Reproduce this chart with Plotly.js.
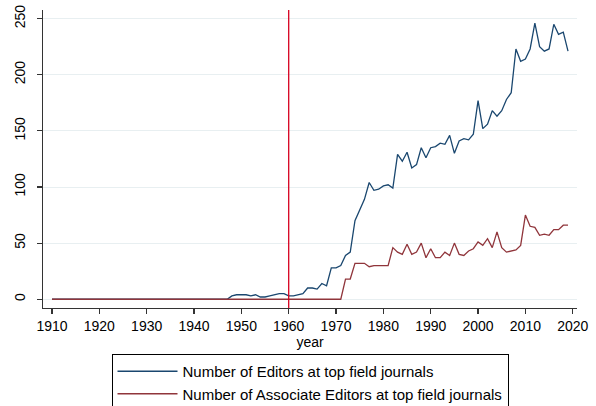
<!DOCTYPE html>
<html>
<head>
<meta charset="utf-8">
<script src="https://cdn.plot.ly/plotly-3.0.1.min.js"></script>
<style>
  html, body { margin: 0; padding: 0; background: #ffffff; }
  #chart { width: 596px; height: 406px; }
</style>
</head>
<body>
<div id="chart"></div>
<script>
var years = [
  1910, 1911, 1912, 1913, 1914, 1915, 1916, 1917, 1918, 1919,
  1920, 1921, 1922, 1923, 1924, 1925, 1926, 1927, 1928, 1929,
  1930, 1931, 1932, 1933, 1934, 1935, 1936, 1937, 1938, 1939,
  1940, 1941, 1942, 1943, 1944, 1945, 1946, 1947, 1948, 1949,
  1950, 1951, 1952, 1953, 1954, 1955, 1956, 1957, 1958, 1959,
  1960, 1961, 1962, 1963, 1964, 1965, 1966, 1967, 1968, 1969,
  1970, 1971, 1972, 1973, 1974, 1975, 1976, 1977, 1978, 1979,
  1980, 1981, 1982, 1983, 1984, 1985, 1986, 1987, 1988, 1989,
  1990, 1991, 1992, 1993, 1994, 1995, 1996, 1997, 1998, 1999,
  2000, 2001, 2002, 2003, 2004, 2005, 2006, 2007, 2008, 2009,
  2010, 2011, 2012, 2013, 2014, 2015, 2016, 2017, 2018, 2019
];

var editors = [
  0, 0, 0, 0, 0, 0, 0, 0, 0, 0,
  0, 0, 0, 0, 0, 0, 0, 0, 0, 0,
  0, 0, 0, 0, 0, 0, 0, 0, 0, 0,
  0, 0, 0, 0, 0, 0, 0, 0, 3, 4,
  4, 4, 3, 4, 2, 2, 3, 4, 5, 5,
  3, 3, 4, 5, 10, 10, 9, 14, 12, 28,
  28, 30, 39, 42, 70, 80, 89, 104, 97, 98,
  101, 102, 99, 129, 123, 131, 117, 120, 135, 126,
  135, 136, 139, 138, 146, 130, 141, 143, 142, 147,
  177, 152, 156, 168, 163, 168, 178, 184, 223, 212,
  214, 223, 246, 225, 221, 223, 245, 236, 238, 221
];

var associates = [
  0, 0, 0, 0, 0, 0, 0, 0, 0, 0,
  0, 0, 0, 0, 0, 0, 0, 0, 0, 0,
  0, 0, 0, 0, 0, 0, 0, 0, 0, 0,
  0, 0, 0, 0, 0, 0, 0, 0, 0, 0,
  0, 0, 0, 0, 0, 0, 0, 0, 0, 0,
  0, 0, 0, 0, 0, 0, 0, 0, 0, 0,
  0, 0, 18, 18, 32, 32, 32, 29, 30, 30,
  30, 30, 46, 42, 40, 49, 40, 42, 50, 37,
  45, 37, 37, 42, 39, 50, 40, 39, 43, 45,
  51, 48, 54, 46, 60, 46, 42, 43, 44, 48,
  75, 65, 64, 57, 58, 57, 62, 62, 66, 66
];

var xTicks = [1910, 1920, 1930, 1940, 1950, 1960, 1970, 1980, 1990, 2000, 2010, 2020];
var yTicks = [0, 50, 100, 150, 200, 250];
var markerYear = 1960;

var seriesNames = [
  "Number of Editors at top field journals",
  "Number of Associate Editors at top field journals"
];

var traces = [
  {
    x: years, y: editors, type: "scatter", mode: "lines",
    name: seriesNames[0],
    line: { color: "#1a476f", width: 1.3 }
  },
  {
    x: years, y: associates, type: "scatter", mode: "lines",
    name: seriesNames[1],
    line: { color: "#90353b", width: 1.3 }
  }
];

var font = { family: "Liberation Sans, Arial, sans-serif", size: 14, color: "#000000" };
var legendFont = { family: "Liberation Sans, Arial, sans-serif", size: 15, color: "#000000" };

var layout = {
  width: 596, height: 406,
  margin: { l: 43, r: 19, t: 10, b: 98, pad: 0, autoexpand: false },
  paper_bgcolor: "#ffffff",
  plot_bgcolor: "#ffffff",
  font: font,
  showlegend: true,
  xaxis: {
    range: [1908.1, 2020.9],
    tickmode: "array", tickvals: xTicks, ticktext: xTicks.map(String),
    ticks: "outside", ticklen: 5, tickwidth: 1.2, tickcolor: "#333333",
    showline: true, linecolor: "#333333", linewidth: 1.3,
    showgrid: false, zeroline: false,
    tickfont: font,
    title: { text: "year", font: font, standoff: 1 }
  },
  yaxis: {
    range: [-7.8, 257.7],
    tickmode: "array", tickvals: yTicks, ticktext: yTicks.map(String),
    tickangle: -90,
    ticklabelstandoff: 6,
    ticks: "outside", ticklen: 5, tickwidth: 1.2, tickcolor: "#333333",
    showline: true, linecolor: "#333333", linewidth: 1.3,
    showgrid: true, gridcolor: "#e8eff1", gridwidth: 1,
    zeroline: false,
    tickfont: font
  },
  shapes: [{
    type: "line", xref: "x", yref: "paper",
    x0: markerYear, x1: markerYear, y0: 0, y1: 1,
    line: { color: "#d7001f", width: 1.3 },
    layer: "above"
  }],
  legend: {
    orientation: "v",
    x: 0.5, xanchor: "center",
    y: -0.1544, yanchor: "top",
    bordercolor: "#000000", borderwidth: 1,
    bgcolor: "#ffffff",
    font: legendFont,
    itemwidth: 60,
    traceorder: "normal"
  }
};

Plotly.newPlot("chart", traces, layout, { displayModeBar: false, staticPlot: true });
</script>
</body>
</html>
